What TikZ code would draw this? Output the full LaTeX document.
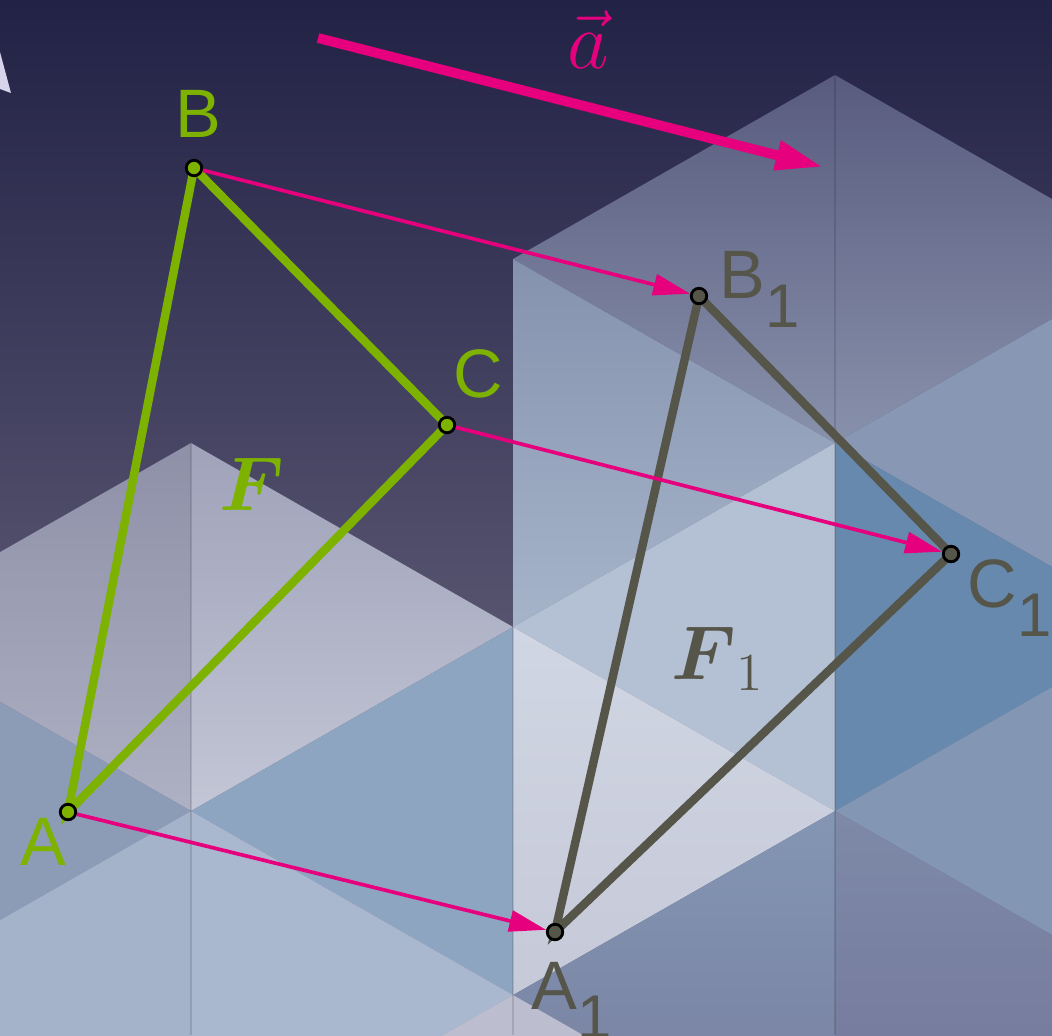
\RequirePackage{fix-cm}
\documentclass[tikz,border=0pt]{standalone}
\usepackage{amsmath}
\usepackage[no-math]{fontspec}
\setmainfont{Liberation Sans}
\usetikzlibrary{arrows.meta}

\definecolor{ggreen}{HTML}{7DB200}
\definecolor{ggray}{HTML}{55554A}
\definecolor{gpink}{HTML}{E6007E}
\definecolor{bgtop}{HTML}{222246}
\definecolor{bgbot}{HTML}{79748A}
% cube faces
\definecolor{lavTop}{HTML}{8E90A8}
\definecolor{lavBot}{HTML}{AEB1C3}
\definecolor{lavTopR}{HTML}{9FA2B9}
\definecolor{lavBotR}{HTML}{C2C6D5}
\definecolor{slateTop}{HTML}{585B7E}
\definecolor{slateBot}{HTML}{8891AB}
\definecolor{frontTop}{HTML}{8592AE}
\definecolor{frontBot}{HTML}{A6B4CA}
\definecolor{paleTop}{HTML}{D0D6E3}
\definecolor{paleBot}{HTML}{C6C9D8}
\definecolor{lowTop}{HTML}{8396B4}
\definecolor{lowBot}{HTML}{777C9C}
\definecolor{lowTopR}{HTML}{7E89A7}
\definecolor{lowBotR}{HTML}{72759A}
\definecolor{steel}{HTML}{6789AE}
\definecolor{greyblue}{HTML}{8D9CB6}
\definecolor{blueA}{HTML}{8EA5C2}
\definecolor{blueB}{HTML}{8898B4}
\definecolor{blueC}{HTML}{8396B3}
\definecolor{lightA}{HTML}{A4B3C9}
\definecolor{lightB}{HTML}{A9B8CE}
\definecolor{lightC}{HTML}{B4C0D3}
\definecolor{lilac}{HTML}{BCBED0}
\definecolor{wedge}{HTML}{D6D3EA}

\newcommand{\lsub}[1]{\raisebox{-0.43em}{\scalebox{0.9}{#1}}}

\begin{document}
\begin{tikzpicture}[x=0.01cm, y=-0.01cm,
    vtx/.style={circle, draw=black, line width=0.8pt, inner sep=0pt, minimum size=1.55mm},
    vtxF/.style={vtx, fill=ggreen},
    vtxG/.style={vtx, fill=ggray},
    sideF/.style={draw=ggreen, line width=2.4pt, line cap=round},
    sideG/.style={draw=ggray, line width=2.4pt, line cap=round},
    transl/.style={draw=gpink, line width=1.05pt, -{Triangle[length=10.5pt, width=6pt]}},
    vecbig/.style={draw=gpink, line width=2.8pt, -{Triangle[length=13.5pt, width=8pt]}},
    lblF/.style={text=ggreen, inner sep=0pt, anchor=base west, font=\fontsize{19.5}{20}\selectfont},
    lblG/.style={lblF, text=ggray},
    mathlbl/.style={inner sep=0pt, anchor=base west, font=\fontsize{21.7}{22}\selectfont},
    seam/.style={draw=black, opacity=0.12, line width=0.5pt}]

    \useasboundingbox (0,0) rectangle (1052,1035);
    \clip (0,0) rectangle (1052,1035);

    \shade[top color=bgtop, bottom color=bgbot] (0,0) rectangle (1052,1035);
    \fill[wedge] (0,52) -- (11,93) -- (0,89) -- cycle;

    % back cubes
    \shade[top color=lavTop, bottom color=lavBot] (-131,627) -- (191,443) -- (191,811) -- cycle;
    \fill[greyblue] (191,811) -- (-131,627) -- (-131,995) -- cycle;
    \fill[lightA] (-131,995) -- (191,811) -- (191,1179) -- cycle;
    \shade[top color=lavTopR, bottom color=lavBotR] (513,627) -- (191,443) -- (191,811) -- cycle;
    \fill[blueA] (191,811) -- (513,627) -- (513,995) -- cycle;
    \fill[lightB] (513,995) -- (191,811) -- (191,1179) -- cycle;
    \fill[lilac] (191,1179) -- (513,995) -- (513,1363) -- cycle;
    \shade[top color=slateTop, bottom color=slateBot] (513,259) -- (835,75) -- (835,443) -- cycle;
    \shade[top color=frontTop, bottom color=frontBot] (835,443) -- (513,259) -- (513,627) -- cycle;
    \fill[lightC] (513,627) -- (835,443) -- (835,811) -- cycle;
    \shade[top color=paleTop, bottom color=paleBot] (835,811) -- (513,627) -- (513,995) -- cycle;
    \shade[top color=lowTop, bottom color=lowBot] (513,995) -- (835,811) -- (835,1179) -- cycle;
    \fill[lilac] (835,1179) -- (513,995) -- (513,1363) -- cycle;
    \shade[top color=slateTop, bottom color=slateBot] (1157,259) -- (835,75) -- (835,443) -- cycle;
    \fill[blueB] (835,443) -- (1157,259) -- (1157,627) -- cycle;
    \fill[steel] (1157,627) -- (835,443) -- (835,811) -- cycle;
    \fill[blueC] (835,811) -- (1157,627) -- (1157,995) -- cycle;
    \shade[top color=lowTopR, bottom color=lowBotR] (1157,995) -- (835,811) -- (835,1179) -- cycle;
    \draw[seam] (191,443) -- (191,1035);
    \draw[seam] (513,627) -- (513,1035);
    \draw[seam] (835,75) -- (835,1035);

    \coordinate (A) at (68,812);
    \coordinate (B) at (194,168);
    \coordinate (C) at (447,425);
    \coordinate (A1) at (555,932);
    \coordinate (B1) at (699,296);
    \coordinate (C1) at (951,554);

    \draw[sideF] (A) -- (B) -- (C) -- cycle;
    \draw[sideG] (A1) -- (B1) -- (C1) -- cycle;

    \node[vtxF] (pA) at (A) {};
    \node[vtxF] (pB) at (B) {};
    \node[vtxF] (pC) at (C) {};
    \node[vtxG] (pA1) at (A1) {};
    \node[vtxG] (pB1) at (B1) {};
    \node[vtxG] (pC1) at (C1) {};

    \draw[transl] (pA) -- (pA1);
    \draw[transl] (pB) -- (pB1);
    \draw[transl] (pC) -- (pC1);

    \coordinate (v0) at (318,38);
    \coordinate (v1) at (823,167);
    \draw[vecbig] (v0) -- (v1);
    \node[mathlbl, text=gpink, font=\fontsize{23}{23}\selectfont] (la) at (567,68) {$\vec{a}$};

    \node[lblF] (lA) at (20,865) {A};
    \node[lblF] (lB) at (175,137) {B};
    \node[lblF] (lC) at (453,397) {C};
    \node[lblG] (lA1) at (531,1009) {A\lsub{1}};
    \node[lblG] (lB1) at (719,298) {B\lsub{1}};
    \node[lblG] (lC1) at (967,607) {C\lsub{1}};

    \node[mathlbl, text=ggreen] (lF) at (219,510) {$\boldsymbol{F}$};
    \node[mathlbl, text=ggray] (lF1) at (671,679) {$\boldsymbol{F}_1$};
\end{tikzpicture}
\end{document}
